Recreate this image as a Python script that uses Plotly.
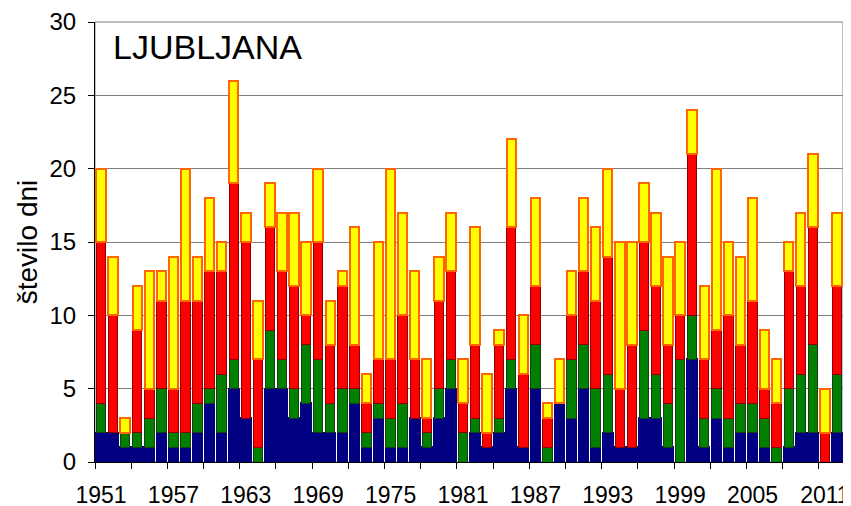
import plotly.graph_objects as go

years = list(range(1951, 2013))
blue = [2, 2, 1, 1, 1, 2, 1, 1, 2, 4, 2, 5, 3, 0, 5, 5, 3, 4, 2, 2,
        2, 4, 1, 3, 1, 1, 3, 1, 3, 5, 0, 2, 1, 2, 5, 1, 5, 0, 4, 3,
        5, 1, 2, 1, 1, 3, 3, 1, 0, 7, 1, 3, 1, 2, 2, 1, 0, 1, 2, 2, 0, 2]
green = [2, 0, 1, 1, 2, 3, 1, 1, 2, 1, 4, 2, 0, 1, 4, 2, 2, 4, 5, 2,
         3, 1, 1, 1, 2, 3, 0, 1, 2, 2, 2, 1, 0, 1, 2, 0, 3, 1, 0, 4,
         3, 4, 4, 0, 0, 6, 3, 3, 7, 3, 2, 2, 2, 2, 2, 2, 1, 4, 4, 6, 0, 4]
red = [11, 8, 0, 7, 2, 6, 3, 9, 7, 8, 7, 12, 12, 6, 7, 6, 7, 2, 8, 4,
       7, 3, 2, 3, 4, 6, 4, 1, 6, 6, 2, 5, 1, 5, 9, 5, 4, 2, 0, 3,
       5, 6, 8, 4, 7, 6, 6, 4, 3, 11, 4, 4, 7, 4, 7, 2, 3, 8, 6, 8, 2, 6]
yellow = [5, 4, 1, 3, 8, 2, 9, 9, 3, 5, 2, 7, 2, 4, 3, 4, 5, 5, 5, 3,
          1, 8, 2, 8, 13, 7, 6, 4, 3, 4, 3, 8, 4, 1, 6, 4, 6, 1, 3, 3,
          5, 5, 6, 10, 7, 4, 5, 6, 5, 3, 5, 11, 5, 6, 7, 4, 3, 2, 5, 5, 3, 5]

station = "LJUBLJANA"
y_title = "število dni"

FONT = "Liberation Sans, Arial, sans-serif"

series = [
    (blue, "#000080", "#000080", 2.2),
    (green, "#008000", "#1a3a1a", 1.0),
    (red, "#FF0000", "#8B0000", 1.0),
    (yellow, "#FFFF00", "#FF6600", 2.0),
]

fig = go.Figure()
for vals, fill, line, lw in series:
    fig.add_trace(go.Bar(
        x=years, y=vals,
        marker=dict(color=fill, line=dict(color=line, width=lw)),
        showlegend=False,
    ))

# the page body adds an 8px offset; margins are chosen so the plot area
# lands where the reference has it inside the 851x506 window
fig.update_layout(
    width=851, height=506,
    margin=dict(l=87, r=16, t=14, b=52, autoexpand=False),
    barmode="stack", bargap=0.22,
    plot_bgcolor="white", paper_bgcolor="white",
    font=dict(family=FONT, color="black"),
    showlegend=False,
)

fig.update_xaxes(
    type="linear", range=[1950.5, 2012.5], automargin=False,
    tickmode="linear", tick0=1951, dtick=6,
    ticks="", showgrid=False, zeroline=False,
    showline=True, linecolor="black", linewidth=1,
    tickfont=dict(size=23, family=FONT, color="black"),
    ticklabelstandoff=12, ticklabeloverflow="allow",
    minor=dict(ticks="outside", tickmode="linear", tick0=1950.5, dtick=3,
               ticklen=6, tickcolor="black", showgrid=False),
)

fig.update_yaxes(
    range=[0, 30], tickmode="linear", tick0=0, dtick=5, automargin=False,
    ticks="outside", ticklen=6, tickcolor="black",
    showline=True, linecolor="black", linewidth=1,
    showgrid=True, gridcolor="#808080", gridwidth=1, zeroline=False,
    tickfont=dict(size=24, family=FONT, color="black"),
    ticklabelstandoff=7,
    title=dict(text=y_title, font=dict(size=28, family=FONT, color="black"), standoff=3),
)

fig.add_shape(type="rect", xref="paper", yref="paper", x0=0, x1=1, y0=0, y1=1,
              line=dict(color="#808080", width=1), layer="below")

fig.add_annotation(text=station, xref="paper", yref="paper", x=0.022, y=0.99,
                   xanchor="left", yanchor="top", showarrow=False,
                   font=dict(size=34, family=FONT, color="black"))

fig.write_html("out.html")
